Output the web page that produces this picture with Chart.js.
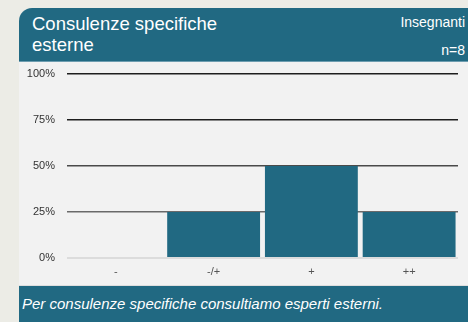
<!DOCTYPE html>
<html>
<head>
<meta charset="utf-8">
<script src="https://cdn.jsdelivr.net/npm/chart.js@4/dist/chart.umd.min.js"></script>
<style>
  html, body { margin: 0; padding: 0; }
  body { width: 468px; height: 322px; background: #ecece6; position: relative; overflow: hidden;
         font-family: "Liberation Sans", Arial, sans-serif; }
  .card { position: absolute; left: 19px; top: 8px; width: 460px; height: 320px;
          border-top-left-radius: 13px; overflow: hidden; background: #f2f2f2; }
  .head { position: absolute; left: 0; top: 0; right: 0; height: 53px; background: #216982;
          border-bottom: 1px solid #6d9db0; color: #fff; }
  .title { position: absolute; left: 13px; top: 5px; font-size: 18.5px; line-height: 21px; }
  .meta { position: absolute; right: 14px; top: 0px; font-size: 14px; line-height: 28px; text-align: right; }
  .plot { position: absolute; left: 0; top: 54px; width: 449px; height: 222px; }
  .foot { position: absolute; left: 0; top: 277px; right: 0; bottom: 0; background: #216982;
          border-top: 1px solid #dedede; color: #fff; }
  .foot span { position: absolute; left: 3px; top: 9px; font-size: 15px; font-style: italic; }
</style>
</head>
<body>
<div class="card">
  <div class="head">
    <div class="title">Consulenze specifiche<br>esterne</div>
    <div class="meta">Insegnanti<br>n=8</div>
  </div>
  <div class="plot"><canvas id="chart" width="449" height="222"></canvas></div>
  <div class="foot"><span>Per consulenze specifiche consultiamo esperti esterni.</span></div>
</div>
<script>
const categories = ['-', '-/+', '+', '++'];
const shares = [0, 25, 50, 25];
const yTicks = [0, 25, 50, 75, 100];

// grid gets darker towards the top, baseline stays pale
const gridColors = { 0: '#dcdcdc', 25: '#6a6a6a', 50: '#4a4a4a', 75: '#1e1e1e', 100: '#1e1e1e' };

new Chart(document.getElementById('chart'), {
    type: 'bar',
    data: {
        labels: categories,
        datasets: [{
            data: shares,
            backgroundColor: '#216982',
            borderWidth: 0,
            barPercentage: 0.95,
            categoryPercentage: 1
        }]
    },
    options: {
        responsive: false,
        animation: false,
        maintainAspectRatio: false,
        layout: { padding: { top: 12, right: 10, left: 0, bottom: 0 } },
        plugins: { legend: { display: false }, tooltip: { enabled: false } },
        scales: {
            x: {
                grid: { display: false, drawTicks: false },
                border: { display: false },
                ticks: { color: '#555', font: { family: 'Liberation Sans', size: 11 }, padding: 7 },
                afterFit: s => { s.height = 26; }
            },
            y: {
                min: 0,
                max: 100,
                afterBuildTicks: s => { s.ticks = yTicks.map(v => ({ value: v })); },
                afterFit: s => { s.width = 48; },
                border: { display: false },
                grid: {
                    // invisible tick marks keep the labels clear of the plot
                    drawTicks: true,
                    tickLength: 12,
                    tickColor: 'rgba(0,0,0,0)',
                    color: c => gridColors[c.tick.value] || '#888',
                    lineWidth: c => c.tick.value === 0 ? 2 : 1.5
                },
                ticks: {
                    color: '#333',
                    padding: 0,
                    font: { family: 'Liberation Sans', size: 11 },
                    callback: v => v + '%'
                }
            }
        }
    }
});
</script>
</body>
</html>
